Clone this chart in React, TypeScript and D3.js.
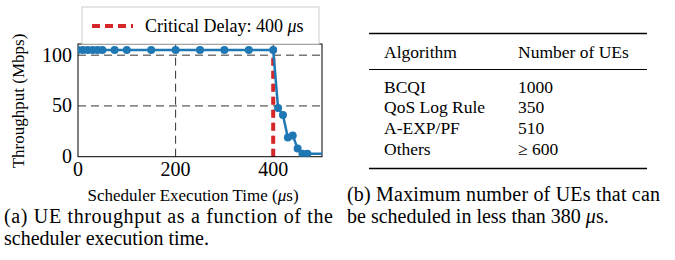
import * as d3 from "d3";

// Throughput vs scheduler execution time
const execTimes = [0, 10, 20, 30, 40, 50, 75, 100, 150, 200, 250, 300, 350, 400, 410, 420, 430, 440, 450, 460, 470, 520];
const throughput = [105, 105, 105, 105, 105, 105, 105, 105, 105, 105, 105, 105, 105, 105, 48, 41, 19, 21, 8, 3, 3, 3];
const xTicks = [0, 200, 400];
const yTicks = [0, 50, 100];
const criticalDelay = 400;

// Table data
const algorithms = ["BCQI", "QoS Log Rule", "A-EXP/PF", "Others"];
const numUEs = ["1000", "350", "510", "\u2265 600"];

const serif = '"Liberation Serif", "Times New Roman", Times, serif';

const App = () => {
  const x = d3.scaleLinear().domain([0, 500]).range([78, 322]);
  const y = d3.scaleLinear().domain([0, 111]).range([156.7, 44]);
  const pts = execTimes.map((t, i) => ({ t, v: throughput[i] }));
  const line = d3.line<{ t: number; v: number }>()
    .x(d => x(d.t))
    .y(d => y(d.v));

  const [x0, x1] = x.range();
  const [yb, yt] = y.range();

  const rowY = [92.5, 113, 133.5, 155];

  return (
    <svg
      width={675}
      height={260}
      style={{ position: "absolute", left: 0, top: 0, background: "#fff", fontFamily: serif }}
    >
      <defs>
        <clipPath id="plot-clip">
          <rect x={x0} y={yt - 10} width={x1 - x0} height={yb - yt + 10} />
        </clipPath>
      </defs>

      {/* grid */}
      {xTicks.filter(t => t > 0).map(t => (
        <line key={"gx" + t} x1={x(t)} x2={x(t)} y1={yb} y2={yt}
          stroke="#333" strokeWidth={1} strokeDasharray="8,5" />
      ))}
      {yTicks.filter(t => t > 0).map(t => (
        <line key={"gy" + t} x1={x0} x2={x1} y1={y(t)} y2={y(t)}
          stroke="#333" strokeWidth={1} strokeDasharray="8,5" />
      ))}

      {/* critical delay */}
      <line x1={x(criticalDelay)} x2={x(criticalDelay)} y1={y(0)} y2={y(100)}
        stroke="#d62728" strokeWidth={4} strokeDasharray="8,5" />

      {/* frame */}
      <rect x={x0} y={yt} width={x1 - x0} height={yb - yt} fill="none" stroke="#000" strokeWidth={1} />

      {/* series */}
      <g clipPath="url(#plot-clip)">
        <path d={line(pts) ?? ""} fill="none" stroke="#1f77b4" strokeWidth={2.5} />
        {pts.map((d, i) => (
          <circle key={i} cx={x(d.t)} cy={y(d.v)} r={4} fill="#1f77b4" />
        ))}
      </g>

      {/* tick labels */}
      {xTicks.map(t => (
        <text key={"tx" + t} x={x(t)} y={176} textAnchor="middle" fontSize={20}>{t}</text>
      ))}
      {yTicks.map(t => (
        <text key={"ty" + t} x={72} y={y(t) + 6.5} textAnchor="end" fontSize={20}>{t}</text>
      ))}

      {/* axis labels */}
      <text transform="translate(24,101) rotate(-90)" textAnchor="middle" fontSize={17}>
        Throughput (Mbps)
      </text>
      <text x={193} y={201} textAnchor="middle" fontSize={17}>
        Scheduler Execution Time (<tspan fontStyle="italic">μ</tspan>s)
      </text>

      {/* legend */}
      <rect x={82} y={7} width={237} height={37} fill="#fff" stroke="#ccc" strokeWidth={1} />
      <line x1={92} x2={133} y1={26} y2={26} stroke="#d62728" strokeWidth={4} strokeDasharray="8,5" />
      <text x={145} y={32} fontSize={18}>
        Critical Delay: 400 <tspan fontStyle="italic">μ</tspan>s
      </text>

      {/* table */}
      <line x1={369} x2={647} y1={33.5} y2={33.5} stroke="#000" strokeWidth={1.6} />
      <text x={384} y={58} fontSize={17.5}>Algorithm</text>
      <text x={518} y={58} fontSize={17.5}>Number of UEs</text>
      <line x1={369} x2={647} y1={69.5} y2={69.5} stroke="#000" strokeWidth={1} />
      {algorithms.map((a, i) => (
        <g key={a}>
          <text x={384} y={rowY[i]} fontSize={17.5}>{a}</text>
          <text x={518} y={rowY[i]} fontSize={17.5}>{numUEs[i]}</text>
        </g>
      ))}
      <line x1={369} x2={647} y1={168.5} y2={168.5} stroke="#000" strokeWidth={1.6} />

      {/* captions */}
      <text x={4} y={223} fontSize={20} textLength={329} lengthAdjust="spacing">
        (a) UE throughput as a function of the
      </text>
      <text x={4} y={245} fontSize={20}>scheduler execution time.</text>
      <text x={347} y={201} fontSize={20} textLength={313} lengthAdjust="spacing">
        (b) Maximum number of UEs that can
      </text>
      <text x={347} y={223} fontSize={20}>
        be scheduled in less than 380 <tspan fontStyle="italic">μ</tspan>s.
      </text>
    </svg>
  );
};

export default App;
